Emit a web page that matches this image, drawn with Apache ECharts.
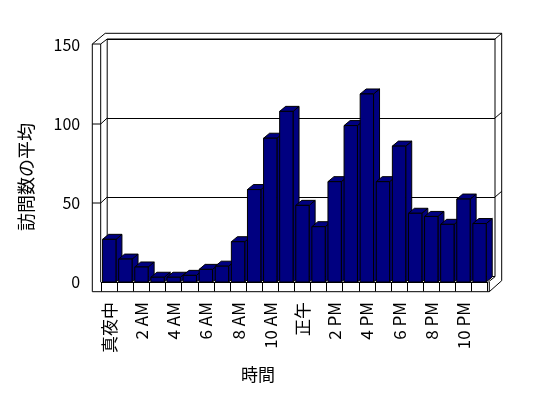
<!DOCTYPE html>
<html>
<head>
<meta charset="utf-8">
<script src="https://cdn.jsdelivr.net/npm/echarts@6/dist/echarts.min.js"></script>
<style>
html, body { margin: 0; padding: 0; background: #fff; }
#main { width: 548px; height: 398px; }
</style>
</head>
<body>
<div id="main"></div>
<script>
var hours = ['真夜中', '1 AM', '2 AM', '3 AM', '4 AM', '5 AM', '6 AM', '7 AM', '8 AM', '9 AM', '10 AM', '11 AM',
    '正午', '1 PM', '2 PM', '3 PM', '4 PM', '5 PM', '6 PM', '7 PM', '8 PM', '9 PM', '10 PM', '11 PM'];
var visits = [27, 14.5, 9.5, 3, 3, 4.2, 8, 10, 25.5, 58.5, 91, 108,
    48.5, 35, 63.5, 99, 119, 63.5, 86, 43.5, 41.5, 36.5, 52.5, 37];
var yTicks = [0, 50, 100, 150];

// front plane of the plot, back wall is shifted by (DX, DY)
var FL = 101.2, FT = 45, FW = 386.4, FH = 237;
var FR = FL + FW, FB = FT + FH;
var DX = 6, DY = -6;
var font = '"Noto Sans CJK JP", sans-serif';

function renderBar(params, api) {
    var top = api.coord([api.value(0), api.value(1)]);
    var base = api.coord([api.value(0), 0]);
    var bw = api.size([1, 0])[0] * 0.83;
    var x0 = top[0] - bw / 2, x1 = top[0] + bw / 2;
    var dx = 6, dy = -5;
    var style = { fill: '#000080', stroke: '#000', lineWidth: 1 };
    return {
        type: 'group',
        children: [
            { type: 'polygon', shape: { points: [[x1, top[1]], [x1 + dx, top[1] + dy], [x1 + dx, base[1] + dy], [x1, base[1]]] }, style: style },
            { type: 'polygon', shape: { points: [[x0, top[1]], [x0 + dx, top[1] + dy], [x1 + dx, top[1] + dy], [x1, top[1]]] }, style: style },
            { type: 'rect', shape: { x: x0, y: top[1], width: bw, height: base[1] - top[1] }, style: style }
        ]
    };
}

function frameLines() {
    var ln = { stroke: '#000', lineWidth: 1, fill: null };
    var bl = FL + DX, bt = FT + DY, br = FR + 7.4, bb = FB + DY;
    var ol = 92.3, ob = FB + 9.7, ort = 501.7, otop = 33.3;
    var items = [
        // outer outline of walls and floor
        { type: 'polyline', shape: { points: [[ol, FT - 1], [ol, ob], [FR + 1.7, ob], [ort, ob - 11], [ort, otop], [bl - 2, otop], [ol, FT - 1]] }, style: ln },
        { type: 'polyline', shape: { points: [[ol, FT - 1], [FL - 0.5, FT - 1], [bl, bt]] }, style: ln },
        { type: 'polyline', shape: { points: [[FL - 0.5, FT - 1], [FL - 0.5, FB]] }, style: ln },
        // back wall
        { type: 'polyline', shape: { points: [[bl, bb], [bl, bt], [br, bt], [br, bb + 0.7]] }, style: ln },
        { type: 'polyline', shape: { points: [[br, bt], [ort, otop]] }, style: ln },
        // floor right edge
        { type: 'polyline', shape: { points: [[FR + 0.7, FB], [br, bb + 0.7]] }, style: ln },
        { type: 'polyline', shape: { points: [[FR + 1.7, FB], [FR + 1.7, ob]] }, style: ln }
    ];
    yTicks.slice(1, 3).forEach(function (v) {
        var yf = FB - v / 150 * FH, yb = yf + DY;
        items.push({ type: 'polyline', shape: { points: [[ol, yf], [FL - 0.5, yf], [bl, yb]] }, style: ln });
        items.push({ type: 'polyline', shape: { points: [[br, yb], [ort, yb - 5.7]] }, style: ln });
    });
    return items;
}

var myChart = echarts.init(document.getElementById('main'));
var option = {
    backgroundColor: '#fff',
    animation: false,
    grid: [
        { left: FL, top: FT, width: FW, height: FH },
        { left: FL + DX, top: FT + DY, width: FW + 1.4, height: FH }
    ],
    xAxis: [
        {
            type: 'category',
            gridIndex: 0,
            data: hours,
            axisLine: { lineStyle: { color: '#000', width: 1 } },
            axisTick: { show: true, interval: 0, length: 9.5, lineStyle: { color: '#000' } },
            axisLabel: { interval: 1, rotate: 90, margin: 20, color: '#000', fontSize: 17, fontFamily: font }
        },
        {
            type: 'category',
            gridIndex: 1,
            data: hours,
            show: false
        }
    ],
    yAxis: [
        {
            type: 'value',
            gridIndex: 0,
            min: 0,
            max: 150,
            interval: 50,
            axisLine: { show: false },
            axisTick: { show: false },
            splitLine: { show: false },
            axisLabel: { margin: 21, color: '#000', fontSize: 16, fontFamily: font }
        },
        {
            type: 'value',
            gridIndex: 1,
            min: 0,
            max: 150,
            interval: 50,
            axisLine: { show: false },
            axisTick: { show: false },
            axisLabel: { show: false },
            splitLine: { lineStyle: { color: '#000', width: 1 } }
        }
    ],
    graphic: frameLines().concat([
        {
            type: 'text', x: 26, y: 177, rotation: Math.PI / 2,
            style: { text: '訪問数の平均', fontSize: 18, fontFamily: font, fill: '#000', align: 'center', verticalAlign: 'middle' }
        },
        {
            type: 'text', x: 258, y: 375,
            style: { text: '時間', fontSize: 17, fontFamily: font, fill: '#000', align: 'center', verticalAlign: 'middle' }
        }
    ]),
    series: [
        {
            type: 'custom',
            xAxisIndex: 0,
            yAxisIndex: 0,
            renderItem: renderBar,
            encode: { x: 0, y: 1 },
            data: visits.map(function (v, i) { return [i, v]; }),
            z: 5
        }
    ]
};
myChart.setOption(option);
</script>
</body>
</html>
